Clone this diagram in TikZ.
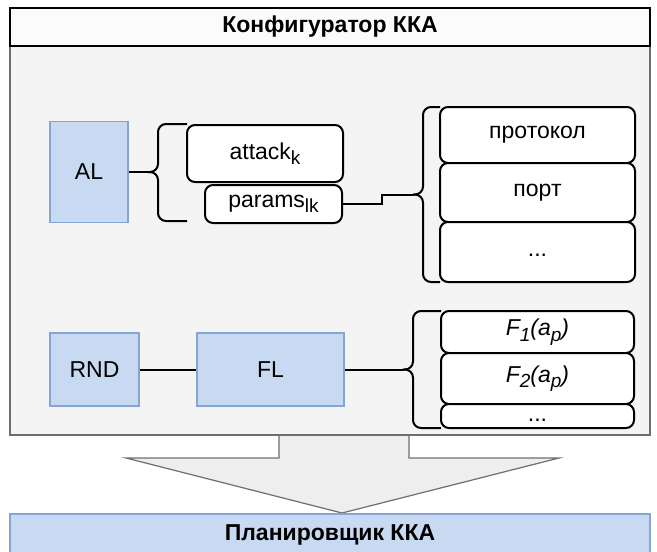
\documentclass[tikz,border=0pt]{standalone}
\usepackage{fontspec}
\setmainfont{Liberation Sans}
\usetikzlibrary{arrows}
\definecolor{paleblue}{RGB}{200, 218, 241}
\definecolor{steelblue}{RGB}{135, 165, 212}
\definecolor{cloud}{RGB}{244, 244, 244}
\definecolor{mist}{RGB}{238, 238, 238}
\definecolor{slate}{RGB}{110, 110, 110}
\newcommand\lowsub[1]{\raisebox{-0.45ex}{\fontsize{9.5pt}{10pt}\selectfont #1}}

\tikzset{
  wh/.style 2 args={minimum width=#1*0.5pt, minimum height=#2*0.5pt},
  txt/.style={font=\fontsize{11.5pt}{13pt}\selectfont},
  bluebox/.style={draw=steelblue, fill=paleblue, line width=0.6pt, inner sep=0pt, txt},
  roundbox/.style={draw=black, fill=white, line width=1pt, rounded corners=4pt, inner sep=0pt, txt},
  bracket/.style={line width=1pt, rounded corners=4pt},
  wire/.style={line width=1pt}
}

\begin{document}
\begin{tikzpicture}[x=0.5pt, y=-0.5pt]
            \useasboundingbox (0,0) rectangle (657,551);
            \filldraw[slate, fill=mist, line width=0.6pt]  (279,435) -- (279,458) -- (126,458) -- (342,513)
                                                            -- (559,458) -- (409,458) -- (409,435);
            \node[draw=slate, fill=cloud, line width=0.8pt, inner sep=0pt, wh={640}{389}] (config)  at (330,240.5) {};
            \node[draw=black, fill=white!97!gray, line width=0.8pt, inner sep=0pt, txt, wh={640}{38},
                  font=\fontsize{11.5pt}{13pt}\selectfont\bfseries]                       (title)   at (330,27)    {Конфигуратор ККА};
            \node[bluebox, wh={640}{42}, font=\fontsize{11.5pt}{13pt}\selectfont\bfseries] (planner) at (330,535)   {Планировщик ККА};

            \node[bluebox,  wh={78}{101}]  (al)     at (89,172)    {AL};
            \node[roundbox, wh={156}{57}]  (attack) at (265,153.5) {attack\lowsub{k}};
            \node[roundbox, wh={137}{38}]  (params) at (273.5,204) {params\lowsub{lk}};
            \node[roundbox, wh={195}{56}]  (proto)  at (537.5,135) {протокол};
            \node[roundbox, wh={195}{59}]  (port)   at (537.5,192.5) {порт};
            \node[roundbox, wh={195}{60}]  (more)   at (537.5,252) {\raisebox{-4pt}{...}};

            \node[bluebox,  wh={89}{73}]   (rnd)    at (94.5,369.5) {RND};
            \node[bluebox,  wh={147}{73}]  (fl)     at (270.5,369.5) {FL};
            \node[roundbox, wh={193}{42}]  (fone)   at (537.5,332) {\textit{F\lowsub{1}(a\lowsub{p})}};
            \node[roundbox, wh={193}{51}]  (ftwo)   at (537.5,378.5) {\textit{F\lowsub{2}(a\lowsub{p})}};
            \node[roundbox, wh={193}{24}]  (fmore)  at (537.5,416) {\raisebox{-5pt}{...}};

            \coordinate (b1)   at (148,172);
            \coordinate (b2)   at (413,194.5);
            \coordinate (kink) at (382,194.5);
            \coordinate (b3)   at (403,369.5);

            \draw[bracket] (187,124) -| (158,172) -- (b1);
            \draw[bracket] (b1) -- (158,172) |- (187,221);
            \draw[bracket] (440,107) -| (423,194.5) -- (b2);
            \draw[bracket] (b2) -- (423,194.5) |- (440,282);
            \draw[bracket] (441,311) -| (413,369.5) -- (b3);
            \draw[bracket] (b3) -- (413,369.5) |- (441,428);

            \draw[wire] (al.east) -- (b1);
            \draw[wire] (params.east) -| (kink) -- (b2);
            \draw[wire] (rnd) -- (fl);
            \draw[wire] (fl.east) -- (b3);
            \end{tikzpicture}
\end{document}
